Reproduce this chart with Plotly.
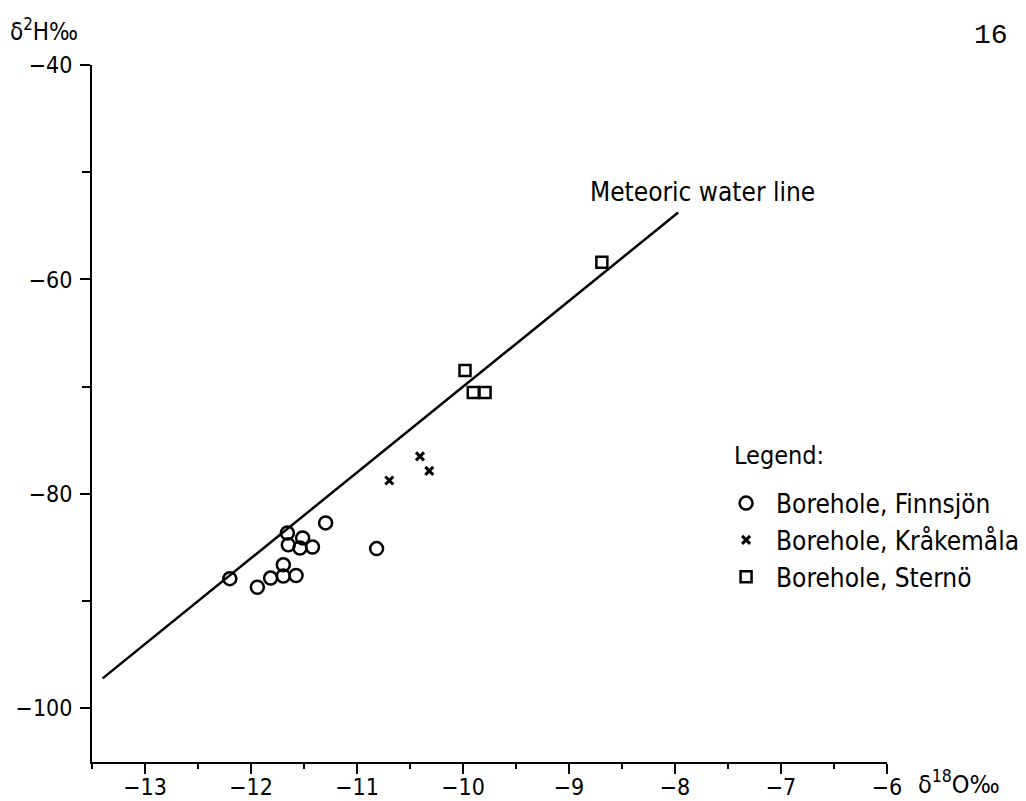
import plotly.graph_objects as go

# Isotope data (δ18O ‰, δ2H ‰) for the three boreholes
finnsjon_d18o = [-12.20, -11.94, -11.815, -11.695, -11.695, -11.575, -11.657,
                 -11.648, -11.513, -11.538, -11.42, -11.296, -10.815]
finnsjon_d2h = [-87.9, -88.7, -87.85, -86.6, -87.65, -87.6, -83.65,
                -84.75, -84.1, -85.05, -84.95, -82.7, -85.1]

krakemala_d18o = [-10.695, -10.406, -10.318]
krakemala_d2h = [-78.75, -76.5, -77.85]

sterno_d18o = [-9.981, -9.903, -9.792, -8.69]
sterno_d2h = [-68.5, -70.55, -70.55, -58.4]

# Meteoric water line end points
mwl_d18o = [-13.40, -7.97]
mwl_d2h = [-97.2, -53.76]

x_ticks = [-13, -12, -11, -10, -9, -8, -7, -6]
y_ticks = [-40, -60, -80, -100]

FONT = "DejaVu Sans Condensed, DejaVu Sans, sans-serif"
INK = "black"

fig = go.Figure()

fig.add_trace(go.Scatter(
    x=mwl_d18o, y=mwl_d2h, mode="lines",
    line=dict(color=INK, width=2.5), showlegend=False, hoverinfo="skip"))

fig.add_trace(go.Scatter(
    x=finnsjon_d18o, y=finnsjon_d2h, mode="markers",
    name="Borehole, Finnsjön", legendgroup="a",
    marker=dict(symbol="circle-open", size=13, color=INK,
                line=dict(width=2.5, color=INK))))

fig.add_trace(go.Scatter(
    x=krakemala_d18o, y=krakemala_d2h, mode="markers",
    name="Borehole, Kråkemåla", legendgroup="b",
    marker=dict(symbol="x-thin", size=8, color=INK,
                line=dict(width=3, color=INK))))

fig.add_trace(go.Scatter(
    x=sterno_d18o, y=sterno_d2h, mode="markers",
    name="Borehole, Sternö", legendgroup="c",
    marker=dict(symbol="square-open", size=11, color=INK,
                line=dict(width=2.5, color=INK))))

axis_common = dict(
    showgrid=False, zeroline=False, showline=True, linecolor=INK, linewidth=2,
    ticks="outside", ticklen=10, tickwidth=2, tickcolor=INK, automargin=False,
    tickfont=dict(family=FONT, size=23, color=INK),
)

fig.update_xaxes(range=[-13.5, -6], tickvals=x_ticks, ticklabelstandoff=-7,
                 minor=dict(dtick=0.5, ticks="outside", ticklen=5, tickwidth=2,
                            tickcolor=INK),
                 **axis_common)
fig.update_yaxes(range=[-105, -40], tickvals=y_ticks, ticklabelstandoff=3,
                 minor=dict(dtick=10, ticks="outside", ticklen=8, tickwidth=2,
                            tickcolor=INK),
                 **axis_common)

fig.update_layout(
    width=1026, height=801,
    margin=dict(l=92, r=139, t=65, b=39, autoexpand=False),
    paper_bgcolor="white", plot_bgcolor="white",
    font=dict(family=FONT, size=22, color=INK),
    showlegend=True,
    legend=dict(
        x=0.785, y=0.405, xanchor="left", yanchor="top",
        font=dict(family=FONT, size=26, color=INK),
        itemwidth=50, tracegroupgap=0, bgcolor="rgba(0,0,0,0)",
    ),
)

# Line label, legend heading, axis titles and page number
fig.add_annotation(text="Meteoric water line", x=-7.745, y=-51.8,
                   xref="x", yref="y", showarrow=False,
                   font=dict(family=FONT, size=26, color=INK))
fig.add_annotation(text="Legend:", x=(732 - 92) / 795, y=(762 - 455) / 697,
                   xref="paper", yref="paper", xanchor="left", yanchor="middle",
                   showarrow=False, font=dict(family=FONT, size=25, color=INK))
fig.add_annotation(text="δ<sup>2</sup>H‰", x=-0.106, y=1.05, xref="paper", yref="paper",
                   xanchor="left", yanchor="middle", showarrow=False,
                   font=dict(family=FONT, size=24, color=INK))
fig.add_annotation(text="δ<sup>18</sup>O‰", x=1.036, y=-0.03, xref="paper", yref="paper",
                   xanchor="left", yanchor="middle", showarrow=False,
                   font=dict(family=FONT, size=25, color=INK))
fig.add_annotation(text="16", x=(991 - 92) / 795, y=(762 - 35) / 697,
                   xref="paper", yref="paper",
                   xanchor="center", yanchor="middle", showarrow=False,
                   font=dict(family="Liberation Mono, monospace", size=28, color=INK))

fig.write_html("out.html")
